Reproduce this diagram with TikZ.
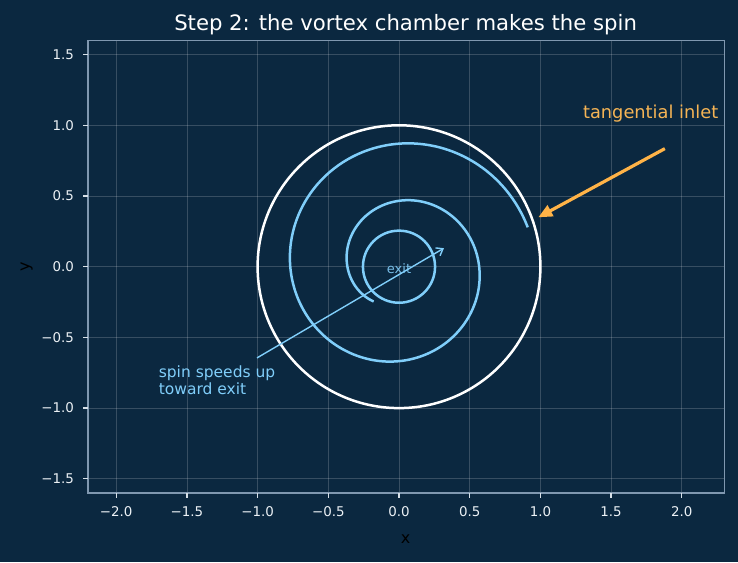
\documentclass[tikz,border=0pt]{standalone}
\usepackage{fontspec}
\setmainfont{DejaVu Sans}
\usetikzlibrary{arrows.meta}
\definecolor{bg}{HTML}{0B2840}
\definecolor{spiralc}{RGB}{128,206,250}
\definecolor{exitc}{RGB}{120,190,232}
\definecolor{inletc}{RGB}{255,179,71}
\definecolor{inlettext}{RGB}{245,180,85}
\definecolor{framec}{RGB}{128,152,176}
\definecolor{tickc}{RGB}{215,224,232}
\definecolor{labc}{RGB}{236,241,245}
\tikzset{
  gridline/.style={draw=white, opacity=0.18, line width=0.8pt},
  framebox/.style={draw=framec, line width=1.3pt},
  tickmark/.style={draw=tickc, line width=1.3pt},
  ticklab/.style={text=labc, font=\fontsize{13.4}{15}\selectfont, inner sep=0pt},
  axlab/.style={text=black, font=\fontsize{16}{18}\selectfont, inner sep=0pt},
  chamber/.style={draw=white, line width=2.5pt},
  spiralline/.style={draw=spiralc, line width=2.5pt, line cap=butt},
  inletarrow/.style={draw=inletc, line width=3.2pt, -{Triangle[length=14pt,width=12pt]}},
  spinarrow/.style={draw=spiralc, line width=1.4pt, -{Straight Barb[length=6pt,width=9pt]}},
  plainlab/.style={inner sep=0pt}
}
\begin{document}
\begin{tikzpicture}[x=1pt,y=1pt]
\fill[bg] (0,0) rectangle (738,562);
\useasboundingbox (0,0) rectangle (738,562);
\node[plainlab, text=white, font=\fontsize{21.2}{26}\selectfont, anchor=base] (title) at (405.6,531.7) {Step 2: the vortex chamber makes the spin};
\begin{scope}[shift={(399pt,295.3pt)}, x=141.4pt, y=141.4pt]
  % grid
  \foreach \gx in {-2,-1.5,-1,-0.5,0,0.5,1,1.5,2} \draw[gridline] (\gx,-1.6) -- (\gx,1.6);
  \foreach \gy in {-1.5,-1,-0.5,0,0.5,1,1.5} \draw[gridline] (-2.2,\gy) -- (2.3,\gy);
  % frame
  \draw[framebox] (-2.2,-1.6) rectangle (2.3,1.6);
  % ticks
  \foreach \gx/\lab [count=\i] in {-2/−2.0,-1.5/−1.5,-1/−1.0,-0.5/−0.5,0/0.0,0.5/0.5,1/1.0,1.5/1.5,2/2.0} {
    \draw[tickmark] (\gx,-1.6) -- ++(0,-5pt);
    \node[ticklab, anchor=base] (xt\i) at ([yshift=-23.6pt]\gx,-1.6) {\lab};
  }
  \foreach \gy/\lab [count=\i] in {-1.5/−1.5,-1/−1.0,-0.5/−0.5,0/0.0,0.5/0.5,1/1.0,1.5/1.5} {
    \draw[tickmark] (-2.2,\gy) -- ++(-5pt,0);
    \node[ticklab, anchor=east] (yt\i) at ([xshift=-13.8pt]-2.2,\gy) {\lab};
  }
  % chamber
  \draw[chamber] (0,0) circle (1);
  % spiral
  \draw[spiralline] plot[domain=0:1, samples=300, smooth] ({(0.952-0.648*\x)*cos(17+577.4*\x)}, {(0.952-0.648*\x)*sin(17+577.4*\x)});
  % exit
  \draw[spiralline] (0,0) circle (0.255);
  \node[plainlab, text=exitc, font=\fontsize{13}{15}\selectfont, anchor=base] (exit) at (0,-0.048) {exit};
  % inlet arrow
  \coordinate (inletTail) at (1.88,0.835);
  \coordinate (inletTip) at (0.985,0.349);
  \draw[inletarrow] (inletTail) -- (inletTip);
  \node[plainlab, text=inlettext, font=\fontsize{17.8}{20}\selectfont, anchor=base west] (inlet) at (1.30,1.045) {tangential inlet};
  % spin arrow
  \coordinate (spinTail) at (-1.004,-0.645);
  \coordinate (spinTip) at (0.318,0.131);
  \draw[spinarrow] (spinTail) -- (spinTip);
  \node[plainlab, text=spiralc, font=\fontsize{15.5}{18}\selectfont, anchor=base west] (spinA) at (-1.700,-0.785) {spin speeds up};
  \node[plainlab, text=spiralc, font=\fontsize{15.5}{18}\selectfont, anchor=base west] (spinB) at (-1.700,-0.902) {toward exit};
\end{scope}
\node[axlab, anchor=base] (xlabel) at (405.6,18.7) {x};
\node[axlab, anchor=base, rotate=90] (ylabel) at (29.3,295.3) {y};
\end{tikzpicture}
\end{document}
